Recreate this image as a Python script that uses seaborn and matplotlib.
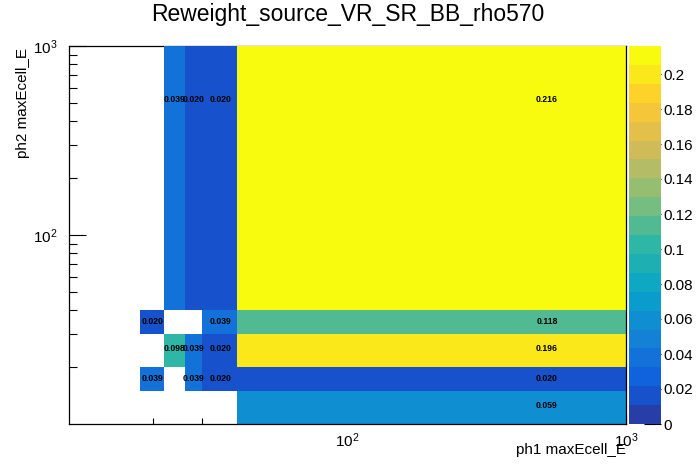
import numpy as np
import pandas as pd
import seaborn as sns
import matplotlib
matplotlib.use("Agg")
import matplotlib.pyplot as plt
from matplotlib.colors import LinearSegmentedColormap, ListedColormap
from matplotlib.ticker import FixedLocator, LogFormatterSciNotation, NullFormatter, FormatStrFormatter

# bin edges of the 2D histogram
x_edges = [18, 22, 26, 30, 40, 1000]
y_edges = [10, 15, 20, 30, 40, 1000]

# bin contents, one list per y bin (bottom to top), entries follow the x bins
row_10_15 = [0.0, 0.0, 0.0, 0.0, 0.059]
row_15_20 = [0.039, 0.0, 0.039, 0.020, 0.020]
row_20_30 = [0.0, 0.098, 0.039, 0.020, 0.196]
row_30_40 = [0.020, 0.0, 0.0, 0.039, 0.118]
row_40_1000 = [0.0, 0.039, 0.020, 0.020, 0.216]
rows = [row_10_15, row_15_20, row_20_30, row_30_40, row_40_1000]

cbar_ticks = [0, 0.02, 0.04, 0.06, 0.08, 0.1, 0.12, 0.14, 0.16, 0.18, 0.2]
axis_major = [100, 1000]
axis_minor = [20, 30, 40, 50, 60, 70, 80, 90, 200, 300, 400, 500, 600, 700, 800, 900]

title = "Reweight_source_VR_SR_BB_rho570"
xlabel = "ph1 maxEcell_E"
ylabel = "ph2 maxEcell_E"

# ROOT kBird palette, 20 contour levels
bird_stops = [0.0, 0.125, 0.25, 0.375, 0.5, 0.625, 0.75, 0.875, 1.0]
bird_r = [0.2082, 0.0592, 0.0780, 0.0232, 0.1802, 0.5301, 0.8186, 0.9956, 0.9764]
bird_g = [0.1664, 0.3599, 0.5041, 0.6419, 0.7178, 0.7492, 0.7328, 0.7862, 0.9832]
bird_b = [0.5293, 0.8684, 0.8385, 0.7914, 0.6425, 0.4662, 0.3499, 0.1968, 0.0539]
bird = LinearSegmentedColormap.from_list(
    "bird", list(zip(bird_stops, zip(bird_r, bird_g, bird_b))))
n_levels = 20
bird20 = ListedColormap([bird((i + 0.99) / n_levels) for i in range(n_levels)])

records = []
for j, row in enumerate(rows):
    for i, w in enumerate(row):
        records.append({
            "x": np.sqrt(x_edges[i] * x_edges[i + 1]),
            "y": np.sqrt(y_edges[j] * y_edges[j + 1]),
            "xc": 0.5 * (x_edges[i] + x_edges[i + 1]),
            "yc": 0.5 * (y_edges[j] + y_edges[j + 1]),
            "w": w,
        })
df = pd.DataFrame(records)

sns.set_theme(style="ticks")
plt.rcParams["font.family"] = ["Liberation Sans", "DejaVu Sans"]
plt.rcParams["mathtext.fontset"] = "custom"
plt.rcParams["mathtext.rm"] = "Liberation Sans"
plt.rcParams["mathtext.it"] = "Liberation Sans:italic"
for key in ["text.color", "axes.labelcolor", "xtick.color", "ytick.color",
            "xtick.labelcolor", "ytick.labelcolor", "axes.edgecolor"]:
    plt.rcParams[key] = "black"

W, H = 696, 472
fig = plt.figure(figsize=(W / 100, H / 100), dpi=100)
fig.patch.set_facecolor("white")
ax = fig.add_axes([69 / W, 1 - 424 / H, (626 - 69) / W, (424 - 46) / H])
cax = fig.add_axes([629 / W, 1 - 424 / H, 32 / W, (424 - 46) / H])
ax.set_facecolor("white")

vmax = max(max(r) for r in rows)
sns.histplot(data=df, x="x", y="y", weights="w",
             bins=[np.log10(x_edges), np.log10(y_edges)],
             log_scale=(True, True), cmap=bird20, vmin=0, vmax=vmax,
             cbar=True, cbar_ax=cax, ax=ax)

# bin content labels at the (linear) bin centres, zero bins skipped
for _, r in df.iterrows():
    if r["w"] > 0:
        ax.text(r["xc"], r["yc"], f"{r['w']:.3f}", ha="center", va="center",
                fontsize=6.2, fontweight="bold", color="black", zorder=4)

ax.set_xlim(10, 1000)
ax.set_ylim(10, 1000)
for axis in (ax.xaxis, ax.yaxis):
    axis.set_major_locator(FixedLocator(axis_major))
    axis.set_minor_locator(FixedLocator(axis_minor))
    axis.set_major_formatter(LogFormatterSciNotation())
    axis.set_minor_formatter(NullFormatter())

ax.tick_params(axis="x", which="major", direction="in", length=8, width=0.8,
               labelsize=11, pad=5, top=False, colors="black")
ax.tick_params(axis="x", which="minor", direction="in", length=4, width=0.8,
               top=False, colors="black")
ax.tick_params(axis="y", which="major", direction="in", length=12, width=0.8,
               labelsize=11, pad=8, right=False, colors="black")
ax.tick_params(axis="y", which="minor", direction="in", length=6, width=0.8,
               right=False, colors="black")

for name, sp in ax.spines.items():
    sp.set_visible(True)
    sp.set_linewidth(0.9)
    sp.set_color("black")
ax.spines["top"].set_zorder(0.5)

ax.set_xlabel(xlabel, fontsize=11, loc="right", color="black")
ax.xaxis.set_label_coords(1.0, -(450 - 424) / (424 - 46))
ax.xaxis.label.set_va("center")
ax.set_ylabel(ylabel, fontsize=11, loc="top", color="black")
ax.yaxis.set_label_coords(-(69 - 23) / (626 - 69), 1 - 2 / (424 - 46))
ax.yaxis.label.set_va("center")

cb = ax.collections[0].colorbar
cb.outline.set_visible(False)
cax.yaxis.set_major_locator(FixedLocator(cbar_ticks))
cax.yaxis.set_major_formatter(FormatStrFormatter("%g"))
cax.minorticks_off()
cax.tick_params(axis="y", direction="in", length=12.5, width=0.8, labelsize=11,
                pad=2, right=True, left=False, labelright=True, labelleft=False,
                colors="black")
cax.yaxis.set_ticks_position("right")

fig.text(347.5 / W, 1 - 15 / H, title, ha="center", va="center",
         fontsize=16.5, color="black")

fig.savefig("out.png", dpi=100, facecolor="white")
